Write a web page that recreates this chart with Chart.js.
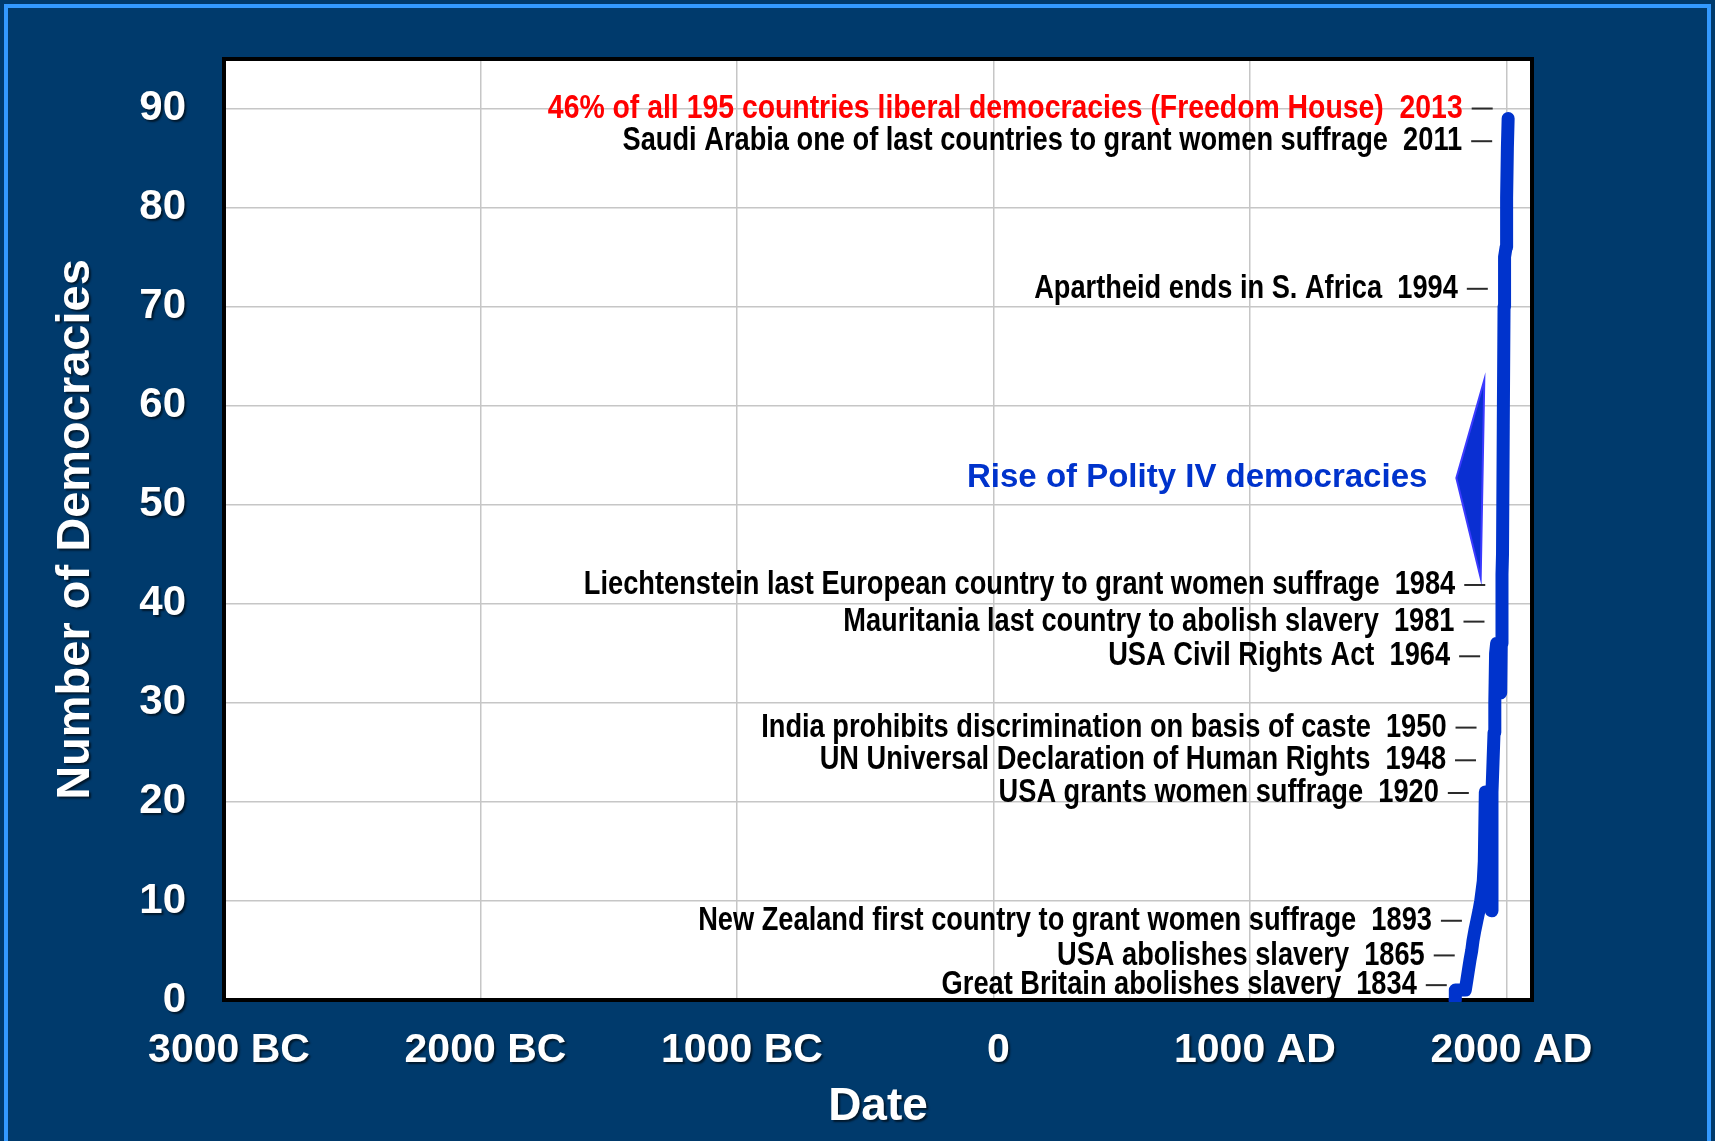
<!DOCTYPE html>
<html>
<head>
<meta charset="utf-8">
<title>Number of Democracies</title>
<script src="https://cdn.jsdelivr.net/npm/chart.js@4.4.1/dist/chart.umd.min.js"></script>
<style>
  html, body { margin: 0; padding: 0; background: #003a6c; overflow: hidden; }
  canvas { display: block; }
</style>
</head>
<body>
<canvas id="chart" width="1715" height="1141"></canvas>
<script>
// Polity IV democracies per year
const years = [1800, 1801, 1840, 1846, 1852, 1858, 1865, 1870, 1877, 1885, 1893, 1900, 1905, 1910, 1914, 1918, 1922, 1926, 1930, 1934, 1937, 1940, 1942, 1944, 1948, 1952, 1955, 1958, 1962, 1966, 1970, 1975, 1978, 1980, 1983, 1985, 1988, 1991, 1993, 1999, 2001, 2004, 2007];
const democracies = [0, 1, 1, 2, 3, 4, 5, 6, 7, 8, 9, 10, 11, 12, 14, 21, 21, 19, 17, 14, 11, 10, 9, 21, 24, 27, 30, 35, 36, 34, 32, 31, 31, 36, 43, 45, 58, 70, 75, 76, 81, 86, 89];

const xTicks = [-3000, -2000, -1000, 0, 1000, 2000];
const xTickLabels = ["3000 BC", "2000 BC", "1000 BC", "0", "1000 AD", "2000 AD"];
const yTicks = [0, 10, 20, 30, 40, 50, 60, 70, 80, 90];

// milestones: year, text, level on the y axis where the note sits
const eventYears = [2013, 2011, 1994, 1984, 1981, 1964, 1950, 1948, 1920, 1893, 1865, 1834];
const eventTexts = [
  "46% of all 195 countries liberal democracies (Freedom House)",
  "Saudi Arabia one of last countries to grant women suffrage",
  "Apartheid ends in S. Africa",
  "Liechtenstein last European country to grant women suffrage",
  "Mauritania last country to abolish slavery",
  "USA Civil Rights Act",
  "India prohibits discrimination on basis of caste",
  "UN Universal Declaration of Human Rights",
  "USA grants women suffrage",
  "New Zealand first country to grant women suffrage",
  "USA abolishes slavery",
  "Great Britain abolishes slavery",
];
const eventLevels = [90, 86.7, 71.8, 41.9, 38.2, 34.7, 27.5, 24.2, 20.9, 8, 4.5, 1.5];

const seriesTitle = "Rise of Polity IV democracies";

const FONT = '"Liberation Sans", Arial, Helvetica, sans-serif';
const NAVY = "#003a6c";
const LINE_BLUE = "#0033cc";
const HIGHLIGHT = 2013;
// arrow corners in (year, level)
const ARROW = [[1914, 62.6], [1805, 52.7], [1900, 42.6]];

const background = {
  id: "background",
  beforeDraw(chart) {
    const { ctx, width, height, chartArea: a } = chart;
    ctx.save();
    ctx.fillStyle = NAVY;
    ctx.fillRect(0, 0, width, height);
    ctx.strokeStyle = "#3399ff";
    ctx.lineWidth = 4;
    ctx.strokeRect(6, 6, width - 12, height + 20);
    ctx.fillStyle = "#ffffff";
    ctx.fillRect(a.left, a.top, a.right - a.left, a.bottom - a.top);
    ctx.restore();
  },
};

// drop shadow under the axis labels and titles
const labelShadow = {
  id: "labelShadow",
  beforeDraw(chart) {
    Object.values(chart.scales).forEach((scale) => {
      if (scale._shadowed) return;
      scale._shadowed = true;
      ["drawLabels", "drawTitle"].forEach((name) => {
        const orig = scale[name].bind(scale);
        scale[name] = (...args) => {
          const ctx = chart.ctx;
          ctx.save();
          ctx.shadowColor = "rgba(0, 0, 0, 0.6)";
          ctx.shadowOffsetX = 2;
          ctx.shadowOffsetY = 2;
          ctx.shadowBlur = 2;
          orig(...args);
          ctx.restore();
        };
      });
    });
  },
};

const frame = {
  id: "frame",
  beforeDatasetsDraw(chart) {
    const { ctx, chartArea: a } = chart;
    ctx.save();
    ctx.strokeStyle = "#000";
    ctx.lineWidth = 4;
    ctx.strokeRect(a.left, a.top, a.right - a.left, a.bottom - a.top);
    ctx.restore();
  },
};

function narrowText(ctx, text, x, y, color, squeeze) {
  ctx.save();
  ctx.translate(x, y);
  ctx.scale(squeeze, 1);
  ctx.font = "bold 33px " + FONT;
  ctx.fillStyle = color;
  ctx.textAlign = "right";
  ctx.textBaseline = "middle";
  ctx.fillText(text, 0, 0);
  ctx.restore();
}

const notes = {
  id: "notes",
  afterDatasetsDraw(chart) {
    const { ctx, scales: { x, y } } = chart;
    ctx.save();

    ctx.beginPath();
    ARROW.forEach(([yr, lv], i) => {
      const px = x.getPixelForValue(yr);
      const py = y.getPixelForValue(lv);
      if (i === 0) ctx.moveTo(px, py);
      else ctx.lineTo(px, py);
    });
    ctx.closePath();
    ctx.fillStyle = "#0a2fd2";
    ctx.fill();
    ctx.strokeStyle = "#3b3bff";
    ctx.lineWidth = 2;
    ctx.stroke();

    const tipX = x.getPixelForValue(ARROW[1][0]);
    const tipY = y.getPixelForValue(ARROW[1][1]);
    ctx.font = "bold 33px " + FONT;
    ctx.fillStyle = LINE_BLUE;
    ctx.textAlign = "right";
    ctx.textBaseline = "middle";
    ctx.fillText(seriesTitle, tipX - 29, tipY);

    eventYears.forEach((yr, i) => {
      const px = x.getPixelForValue(yr);
      const py = y.getPixelForValue(eventLevels[i]);
      ctx.beginPath();
      ctx.moveTo(px - 38, py);
      ctx.lineTo(px - 17, py);
      ctx.strokeStyle = "#2a2a2a";
      ctx.lineWidth = 2;
      ctx.stroke();
      const hot = yr === HIGHLIGHT;
      narrowText(ctx, eventTexts[i] + "  " + yr, px - 47, py, hot ? "#ff0000" : "#000000", hot ? 0.86 : 0.825);
    });
    ctx.restore();
  },
};

const tickFont = (size) => ({ family: FONT, size, weight: "bold", lineHeight: 1 });

new Chart(document.getElementById("chart"), {
  type: "line",
  data: {
    datasets: [{
      data: years.map((yr, i) => ({ x: yr, y: democracies[i] })),
      borderColor: LINE_BLUE,
      borderWidth: 13,
      borderCapStyle: "round",
      borderJoinStyle: "round",
      pointRadius: 0,
      tension: 0,
      clip: { left: 0, top: 8, right: 0, bottom: 2 },
    }],
  },
  options: {
    responsive: false,
    animation: false,
    devicePixelRatio: 1,
    layout: { padding: { top: 57, right: 183, bottom: 0, left: 0 } },
    plugins: { legend: { display: false }, tooltip: { enabled: false } },
    scales: {
      x: {
        type: "linear",
        min: -3000,
        max: 2100,
        afterFit: (scale) => { scale.height = 141; },
        afterBuildTicks: (scale) => { scale.ticks = xTicks.map((v) => ({ value: v })); },
        grid: { color: "#c6c6c6", lineWidth: 1.5, drawTicks: false },
        border: { display: false },
        ticks: {
          color: "#ffffff",
          font: tickFont(41),
          padding: 30,
          labelOffset: 5,
          maxRotation: 0,
          autoSkip: false,
          callback: (v) => xTickLabels[xTicks.indexOf(v)],
        },
        title: {
          display: true,
          text: "Date",
          color: "#ffffff",
          font: tickFont(46),
          padding: { top: 0, bottom: 11 },
        },
      },
      y: {
        min: 0,
        max: 95,
        afterFit: (scale) => { scale.width = 224; },
        afterBuildTicks: (scale) => { scale.ticks = yTicks.map((v) => ({ value: v })); },
        grid: { color: "#c6c6c6", lineWidth: 1.5, drawTicks: false },
        border: { display: false },
        ticks: {
          color: "#ffffff",
          font: tickFont(42),
          padding: 38,
        },
        title: {
          display: true,
          text: "Number of Democracies",
          color: "#ffffff",
          font: tickFont(47),
          padding: { top: 53, bottom: 0 },
        },
      },
    },
  },
  plugins: [background, labelShadow, frame, notes],
});
</script>
</body>
</html>
